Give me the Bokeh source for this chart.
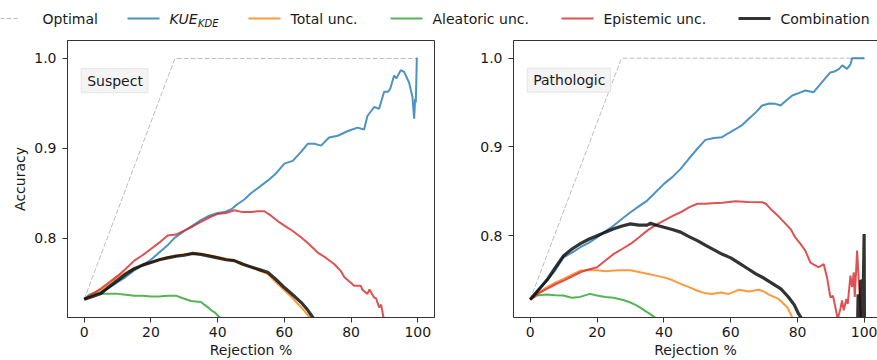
from bokeh.plotting import figure
from bokeh.layouts import column, row
from bokeh.models import Range1d, Label, FixedTicker, PrintfTickFormatter, LinearAxis
from bokeh.core.properties import value
from bokeh.embed import file_html
from bokeh.resources import INLINE

# ---------------- data ----------------
X_TICKS = [0, 20, 40, 60, 80, 100]
Y_TICKS = [0.8, 0.9, 1.0]

# Suspect panel
s_opt_x = [0, 27.2, 100]
s_opt_y = [0.732, 1.0, 1.0]

s_kue_x = [0, 2.5, 5, 7.5, 10, 12.5, 15, 17.5, 20, 22.5, 25, 27, 30, 32.5, 35, 37.5, 40, 42, 44, 46, 48,
           50, 52.5, 55, 57.5, 60, 62.5, 65, 67, 69, 71, 73.4, 76, 78.9, 81.9, 83.9, 84.9, 86.9, 88.4,
           89.9, 91.1, 91.7, 92.9, 93.6, 94.9, 95.9, 97.4, 98.4, 98.9, 99.2, 99.4, 99.7, 100]
s_kue_y = [0.732, 0.736, 0.740, 0.745, 0.751, 0.757, 0.764, 0.770, 0.776, 0.784, 0.792, 0.800, 0.808,
           0.814, 0.820, 0.825, 0.828, 0.829, 0.832, 0.838, 0.843, 0.850, 0.857, 0.864, 0.872, 0.883,
           0.886, 0.896, 0.905, 0.905, 0.903, 0.912, 0.914, 0.919, 0.923, 0.921, 0.936, 0.946, 0.944,
           0.963, 0.963, 0.966, 0.981, 0.978, 0.987, 0.985, 0.973, 0.957, 0.933, 0.955, 0.951, 1.0, 1.0]

s_tot_x = [0, 2.5, 5, 7.5, 10, 12.5, 15, 17.5, 20, 22.5, 25, 27.5, 30, 32.5, 35, 37.5, 40, 42.5, 45,
           47.5, 50, 52.5, 55, 57.5, 60, 62, 64, 66, 67.5, 69]
s_tot_y = [0.732, 0.738, 0.742, 0.749, 0.7565, 0.762, 0.766, 0.770, 0.773, 0.776, 0.779, 0.780, 0.7825,
           0.7825, 0.7825, 0.781, 0.779, 0.777, 0.775, 0.772, 0.768, 0.764, 0.760, 0.751, 0.742, 0.735,
           0.727, 0.719, 0.712, 0.705]

s_ale_x = [0, 1.5, 3.2, 5, 7.5, 10, 12.5, 15, 17.5, 20, 22.5, 25, 27.5, 29, 30.5, 32, 33.5, 35, 36,
           37.1, 38, 39.1, 40.6, 42]
s_ale_y = [0.732, 0.737, 0.739, 0.738, 0.738, 0.738, 0.737, 0.736, 0.736, 0.735, 0.735, 0.736, 0.736,
           0.734, 0.732, 0.730, 0.7294, 0.729, 0.726, 0.723, 0.720, 0.7175, 0.712, 0.705]

s_epi_x = [0, 2.5, 5, 7.5, 10, 12.5, 15, 17.5, 20, 22.5, 25, 27.5, 30, 32.5, 35, 37.5, 40, 42.5, 45,
           47.5, 50, 52, 54, 56, 58, 60, 62.5, 65, 67.5, 70, 72.5, 75, 77, 78, 80, 80.9, 82.9, 83.5,
           84.9, 85.5, 86.9, 87.5, 88.4, 89, 89.7, 91]
s_epi_y = [0.732, 0.738, 0.744, 0.751, 0.758, 0.766, 0.775, 0.781, 0.788, 0.795, 0.803, 0.804, 0.8085,
           0.813, 0.818, 0.823, 0.827, 0.828, 0.831, 0.829, 0.829, 0.830, 0.830, 0.825, 0.819, 0.814,
           0.808, 0.801, 0.793, 0.784, 0.778, 0.771, 0.763, 0.7565, 0.750, 0.747, 0.747, 0.742, 0.738,
           0.743, 0.734, 0.733, 0.723, 0.726, 0.712, 0.700]

s_com_x = [0, 2.5, 5, 7.5, 10, 12.5, 15, 17.5, 20, 22.5, 25, 27.5, 30, 32.5, 35, 37.5, 40, 42.5, 45,
           47.5, 50, 52.5, 55, 57.5, 60, 62.5, 65, 67, 68.5, 70]
s_com_y = [0.732, 0.735, 0.7385, 0.746, 0.753, 0.760, 0.766, 0.770, 0.773, 0.776, 0.778, 0.780, 0.781,
           0.783, 0.782, 0.780, 0.778, 0.776, 0.775, 0.771, 0.768, 0.765, 0.762, 0.754, 0.745, 0.737,
           0.7286, 0.720, 0.712, 0.705]

# Pathologic panel
p_opt_x = [0, 27.3, 100]
p_opt_y = [0.728, 1.0, 1.0]

p_kue_x = [0, 2.5, 5, 7.5, 10, 12.5, 15, 17.5, 20, 22.5, 25, 27.5, 30, 32.5, 35, 37.5, 40, 42.5, 45,
           47.5, 50, 52.4, 55, 57.4, 59.5, 61.4, 63.5, 65.4, 67.5, 69.4, 71.5, 73.4, 74.9, 76.5, 78.4,
           80.5, 82.3, 84.8, 87.3, 89.8, 91, 92.4, 93.4, 94.8, 95.8, 96.3, 100]
p_kue_y = [0.728, 0.739, 0.7494, 0.761, 0.7757, 0.781, 0.787, 0.792, 0.798, 0.805, 0.8114, 0.819,
           0.8264, 0.833, 0.8396, 0.849, 0.8584, 0.866, 0.8753, 0.887, 0.898, 0.908, 0.910, 0.911,
           0.916, 0.920, 0.925, 0.9317, 0.939, 0.9467, 0.949, 0.9486, 0.9467, 0.952, 0.958, 0.961,
           0.9636, 0.9617, 0.973, 0.984, 0.985, 0.988, 0.992, 0.988, 0.993, 1.0, 1.0]

p_tot_x = [0, 2.5, 5, 7.5, 10, 12.5, 15, 17.5, 20, 22.5, 25, 27.5, 30, 32.5, 35, 37.5, 40, 42.5, 45,
           47.5, 50, 52.5, 54.4, 57, 59.4, 62.4, 65.4, 68.4, 70, 71.4, 74.3, 76.9, 78.4, 79]
p_tot_y = [0.728, 0.736, 0.742, 0.747, 0.7513, 0.756, 0.7607, 0.761, 0.761, 0.760, 0.7607, 0.761,
           0.761, 0.759, 0.757, 0.755, 0.753, 0.750, 0.7457, 0.742, 0.738, 0.735, 0.7344, 0.736,
           0.7344, 0.739, 0.737, 0.739, 0.737, 0.7336, 0.7287, 0.7193, 0.708, 0.700]

p_ale_x = [0, 1.9, 4.9, 7.5, 9.9, 12.4, 14.9, 17.9, 19.9, 22.5, 24.9, 27.8, 29.8, 31.5, 32.8, 34.5,
           35.8, 37.3, 38]
p_ale_y = [0.728, 0.7325, 0.7336, 0.733, 0.7325, 0.730, 0.731, 0.7344, 0.7325, 0.731, 0.730, 0.7276,
           0.725, 0.722, 0.7193, 0.715, 0.7118, 0.708, 0.705]

p_epi_x = [0, 2.5, 5, 7.5, 10, 12.5, 15, 17.5, 20, 22.5, 25, 27.5, 30, 32.5, 35, 37.5, 40, 42.5, 45,
           47.5, 50, 52.5, 54.4, 57.5, 61.4, 65, 69.4, 70.5, 72.4, 74.5, 76.4, 78, 79.3, 80.8, 82.3,
           83.8, 85, 86.3, 87.8, 88.8, 89.8, 90.6, 91.3, 92, 92.8, 93.3, 93.8, 94.6, 95, 95.8, 96.3,
           96.8, 97.1, 97.8, 98.3, 98.6, 99]
p_epi_y = [0.728, 0.735, 0.740, 0.745, 0.7494, 0.754, 0.7588, 0.762, 0.7644, 0.772, 0.7795, 0.785,
           0.7907, 0.798, 0.8057, 0.812, 0.817, 0.822, 0.8264, 0.832, 0.836, 0.836, 0.8366, 0.837,
           0.8388, 0.838, 0.8377, 0.836, 0.8283, 0.821, 0.8133, 0.807, 0.798, 0.791, 0.7832, 0.770,
           0.767, 0.7644, 0.768, 0.753, 0.7306, 0.732, 0.7193, 0.706, 0.7175, 0.727, 0.716, 0.7287,
           0.723, 0.755, 0.742, 0.7588, 0.731, 0.7832, 0.749, 0.731, 0.700]

p_com_x = [0, 2.5, 5, 7.5, 10, 12.5, 15, 17.5, 20, 22.5, 25, 27.5, 30, 32.5, 35, 36, 37.5, 40, 42.5,
           45, 47.5, 50, 52.5, 55, 57.5, 60, 62.5, 65, 67.5, 70, 72.5, 75, 77.3, 79, 80.3, 81.5, 90,
           97.9, 98.1, 98.3, 98.5, 98.7, 98.9, 99.1, 99.3, 99.5, 99.7, 99.9, 100]
p_com_y = [0.728, 0.739, 0.750, 0.764, 0.7775, 0.785, 0.791, 0.796, 0.800, 0.804, 0.8077, 0.811,
           0.8133, 0.812, 0.812, 0.814, 0.812, 0.8095, 0.807, 0.804, 0.799, 0.7945, 0.789, 0.784,
           0.779, 0.775, 0.769, 0.763, 0.757, 0.752, 0.746, 0.740, 0.7306, 0.722, 0.7118, 0.705, 0.69,
           0.69, 0.734, 0.69, 0.733, 0.69, 0.750, 0.69, 0.751, 0.69, 0.752, 0.802, 0.69]

LEGEND_LABELS = ["Optimal", "KUE", "Total unc.", "Aleatoric unc.", "Epistemic unc.", "Combination"]
LEGEND_SUB = "KDE"

# ---------------- styles ----------------
FONT = "DejaVu Sans"
FS = "14px"
TXT = "#1a1a1a"
SPINE = "#333333"
C_OPT = "#bdbdbd"
C_KUE = "#1f77b4"
C_TOT = "#ff7f0e"
C_ALE = "#2ca02c"
C_EPI = "#d62728"
C_COM = "#000000"
ALPHA = 0.8
LW = 2.0
LW_COM = 3.2


def style_axis(ax):
    ax.axis_line_color = SPINE
    ax.major_tick_line_color = SPINE
    ax.major_tick_out = 5
    ax.major_tick_in = 0
    ax.minor_tick_line_color = None
    ax.major_label_text_font = FONT
    ax.major_label_text_font_size = FS
    ax.major_label_text_color = TXT
    ax.axis_label_text_font = FONT
    ax.axis_label_text_font_size = FS
    ax.axis_label_text_font_style = "normal"
    ax.axis_label_text_color = TXT


def make_panel(name, y_lo, y_hi, x_hi, series, opt, left_border, right_border, frame_w, ylabel,
               open_right):
    p = figure(frame_width=frame_w, frame_height=277, x_range=Range1d(-5.0, x_hi),
               y_range=Range1d(y_lo, y_hi), toolbar_location=None, output_backend="svg",
               min_border_left=left_border, min_border_right=right_border,
               min_border_top=1, min_border_bottom=43)
    p.background_fill_color = "white"
    p.border_fill_color = "white"
    p.xgrid.visible = False
    p.ygrid.visible = False

    p.line(opt[0], opt[1], color=C_OPT, line_width=1, line_dash="5 2")
    for (xs, ys, col, lw) in series:
        p.line(xs, ys, color=col, line_width=lw, line_alpha=ALPHA)

    xax = p.below[0]
    yax = p.left[0]
    style_axis(xax)
    style_axis(yax)
    xax.ticker = FixedTicker(ticks=X_TICKS)
    yax.ticker = FixedTicker(ticks=Y_TICKS)
    yax.formatter = PrintfTickFormatter(format="%.1f")
    xax.major_label_standoff = 4
    xax.axis_label = "Rejection %"
    xax.axis_label_standoff = 2
    yax.major_label_standoff = 6
    if ylabel:
        yax.axis_label = ylabel
        yax.axis_label_standoff = 3

    if open_right:
        # the frame runs past the window edge: no right spine, top spine as a bare axis line
        p.outline_line_color = None
        top = LinearAxis(ticker=FixedTicker(ticks=[]), axis_line_color=SPINE,
                         major_tick_line_color=None, minor_tick_line_color=None,
                         major_label_text_font_size="0px", major_label_standoff=0,
                         major_tick_out=0, major_tick_in=0)
        p.add_layout(top, "above")
    else:
        p.outline_line_color = SPINE
        p.outline_line_width = 1

    lab = Label(x=-0.9, y=y_hi - 0.0447, text=name, text_font=FONT, text_font_size=FS,
                text_color=TXT, text_baseline="middle", text_align="left",
                background_fill_color="#f4f4f4", background_fill_alpha=1,
                border_line_color="#e6e6e6", border_line_width=1,
                padding=dict(left=6, right=5, top=4, bottom=4))
    p.add_layout(lab)
    return p


left = make_panel("Suspect", 0.7117, 1.02, 105.0,
                  [(s_kue_x, s_kue_y, C_KUE, LW), (s_tot_x, s_tot_y, C_TOT, LW),
                   (s_ale_x, s_ale_y, C_ALE, LW), (s_epi_x, s_epi_y, C_EPI, LW),
                   (s_com_x, s_com_y, C_COM, LW_COM)],
                  (s_opt_x, s_opt_y), 67, 6, 367, "Accuracy", False)

right = make_panel("Pathologic", 0.7078, 1.02, 103.9,
                   [(p_kue_x, p_kue_y, C_KUE, LW), (p_tot_x, p_tot_y, C_TOT, LW),
                    (p_ale_x, p_ale_y, C_ALE, LW), (p_epi_x, p_epi_y, C_EPI, LW),
                    (p_com_x, p_com_y, C_COM, LW_COM)],
                   (p_opt_x, p_opt_y), 73, 0, 364, None, True)

# ---------------- legend strip (pixel layout) ----------------
leg = figure(width=877, height=39, x_range=Range1d(0, 877), y_range=Range1d(0, 39),
             toolbar_location=None, output_backend="svg", x_axis_type=None, y_axis_type=None,
             min_border=0)
leg.xgrid.visible = False
leg.ygrid.visible = False
leg.outline_line_color = None

LEG_Y = 21
handle_x0 = [-15, 127, 248, 390, 561, 738]
text_x = [42, 169, 290, 432, 603, 780]
handle_cols = [C_OPT, C_KUE, C_TOT, C_ALE, C_EPI, C_COM]
handle_w = [1, LW, LW, LW, LW, LW_COM]

leg.segment(x0=[handle_x0[0]], y0=[LEG_Y], x1=[handle_x0[0] + 32], y1=[LEG_Y],
            line_color=C_OPT, line_width=1, line_dash="5 2")
for i in range(1, 6):
    leg.segment(x0=[handle_x0[i]], y0=[LEG_Y], x1=[handle_x0[i] + 32], y1=[LEG_Y],
                line_color=handle_cols[i], line_width=handle_w[i], line_alpha=ALPHA)

plain = [0, 2, 3, 4, 5]
leg.text(x=[text_x[i] for i in plain], y=[LEG_Y] * len(plain),
         text=[LEGEND_LABELS[i] for i in plain], text_font=value(FONT),
         text_font_size=FS, text_color=TXT, text_baseline="middle", text_align="left")
leg.text(x=[text_x[1]], y=[LEG_Y], text=[LEGEND_LABELS[1]], text_font=value(FONT),
         text_font_size=FS, text_font_style="italic", text_color=TXT,
         text_baseline="middle", text_align="left")
leg.text(x=[text_x[1] + 28.5], y=[LEG_Y - 4.5], text=[LEGEND_SUB], text_font=value(FONT),
         text_font_size="10px", text_font_style="italic", text_color=TXT,
         text_baseline="middle", text_align="left")

layout = column(leg, row(left, right, spacing=0), spacing=0)

open("out.html", "w").write(file_html(layout, INLINE))
